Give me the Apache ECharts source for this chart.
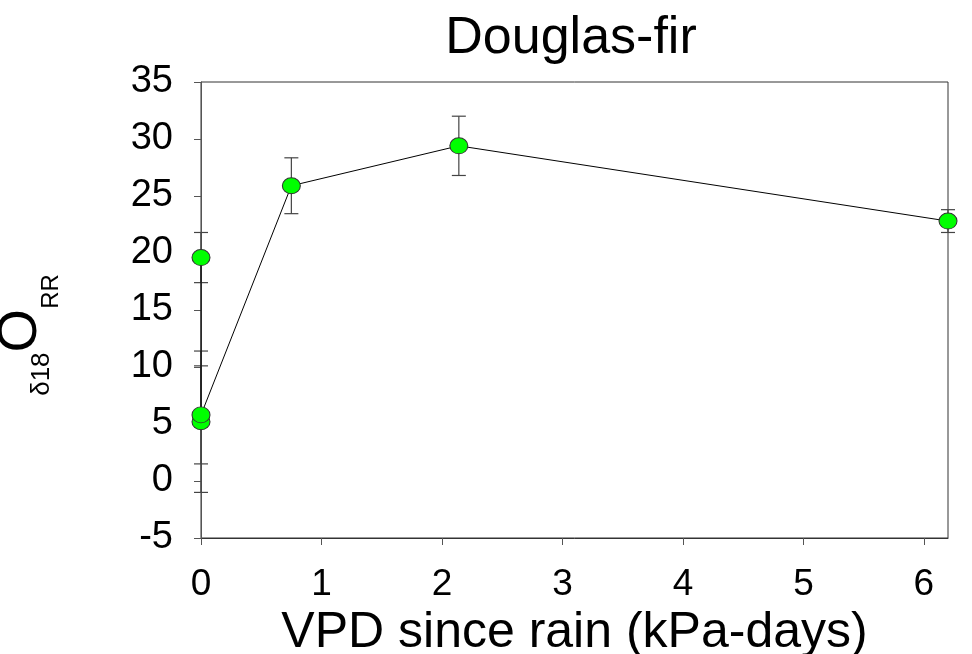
<!DOCTYPE html>
<html>
<head>
<meta charset="utf-8">
<script src="https://cdn.jsdelivr.net/npm/echarts@6/dist/echarts.min.js"></script>
<style>
html,body{margin:0;padding:0;background:#fff;}
#chart{width:972px;height:654px;}
</style>
</head>
<body>
<div id="chart"></div>
<script>
const titleText = 'Douglas-fir';
const xAxisName = 'VPD since rain (kPa-days)';
const xValues = [0, 0, 0, 0.75, 2.14, 6.2];
const yValues = [19.6, 5.2, 5.8, 25.9, 29.4, 22.8];
const yErrors = [2.2, 6.2, 4.3, 2.45, 2.6, 1.0];
const xTicks = [0, 1, 2, 3, 4, 5, 6];
const yTicks = [-5, 0, 5, 10, 15, 20, 25, 30, 35];

const pts = xValues.map((x, i) => [x, yValues[i]]);
const errData = xValues.map((x, i) => [x, yValues[i] - yErrors[i], yValues[i] + yErrors[i]]);

const chart = echarts.init(document.getElementById('chart'), null, {renderer: 'canvas'});
const font = 'Liberation Sans, Arial, sans-serif';
chart.setOption({
  animation: false,
  backgroundColor: '#fff',
  title: {
    text: titleText,
    left: 566,
    textAlign: 'center',
    top: 8,
    textStyle: {fontFamily: font, fontSize: 52, fontWeight: 'normal', color: '#000'}
  },
  grid: {left: 201, right: 24, top: 82, bottom: 116, show: true, borderColor: '#333', borderWidth: 1,
         backgroundColor: 'transparent', containLabel: false, outerBoundsMode: 'none'},
  xAxis: {
    type: 'value',
    min: 0, max: 6.2, interval: 1,
    name: xAxisName,
    nameLocation: 'middle',
    nameGap: 68,
    nameTextStyle: {fontFamily: font, fontSize: 50, color: '#000'},
    axisLine: {show: true, onZero: false, lineStyle: {color: '#333', width: 1}},
    axisTick: {show: true, inside: false, length: 7, lineStyle: {color: '#555'}},
    splitLine: {show: false},
    axisLabel: {
      fontFamily: font, fontSize: 37, color: '#000', margin: 28,
      showMaxLabel: false,
      formatter: v => xTicks.indexOf(v) >= 0 ? String(v) : ''
    }
  },
  yAxis: {
    type: 'value',
    min: -5, max: 35, interval: 5,
    name: '{d|δ}{s|18}{o|O}{r|RR}',
    nameLocation: 'middle',
    nameGap: 138,
    nameRotate: 90,
    nameTextStyle: {
      fontFamily: font, color: '#000', padding: [0, 50, 0, 0],
      rich: {
        d: {fontFamily: font, fontSize: 26, color: '#000', verticalAlign: 'bottom', padding: [0, 0, 8, 0]},
        s: {fontFamily: font, fontSize: 26, color: '#000', verticalAlign: 'bottom', padding: [0, 0, 8, 0]},
        o: {fontFamily: font, fontSize: 56, color: '#000', verticalAlign: 'bottom', padding: [0, 0, 14, 0]},
        r: {fontFamily: font, fontSize: 24, color: '#000', verticalAlign: 'bottom'}
      }
    },
    axisLine: {show: true, onZero: false, lineStyle: {color: '#555', width: 1}},
    axisTick: {show: true, inside: false, length: 7, lineStyle: {color: '#555'}},
    splitLine: {show: false},
    axisLabel: {
      fontFamily: font, fontSize: 38, color: '#000', margin: 28,
      formatter: v => yTicks.indexOf(v) >= 0 ? String(v) : ''
    }
  },
  series: [
    {
      type: 'custom',
      name: 'err',
      data: errData,
      clip: false,
      z: 1,
      renderItem: function (params, api) {
        const x = api.value(0);
        const lo = api.coord([x, api.value(1)]);
        const hi = api.coord([x, api.value(2)]);
        const hw = 7;
        const style = {stroke: '#444', lineWidth: 1.2};
        return {
          type: 'group',
          children: [
            {type: 'line', shape: {x1: lo[0], y1: lo[1], x2: hi[0], y2: hi[1]}, style: style},
            {type: 'line', shape: {x1: lo[0] - hw, y1: lo[1], x2: lo[0] + hw, y2: lo[1]}, style: style},
            {type: 'line', shape: {x1: hi[0] - hw, y1: hi[1], x2: hi[0] + hw, y2: hi[1]}, style: style}
          ]
        };
      }
    },
    {
      type: 'line',
      data: pts,
      clip: false,
      z: 3,
      symbol: 'circle',
      symbolSize: [18, 16],
      lineStyle: {color: '#000', width: 1},
      itemStyle: {color: '#00ff00', borderColor: '#333', borderWidth: 1}
    }
  ]
});
</script>
</body>
</html>
